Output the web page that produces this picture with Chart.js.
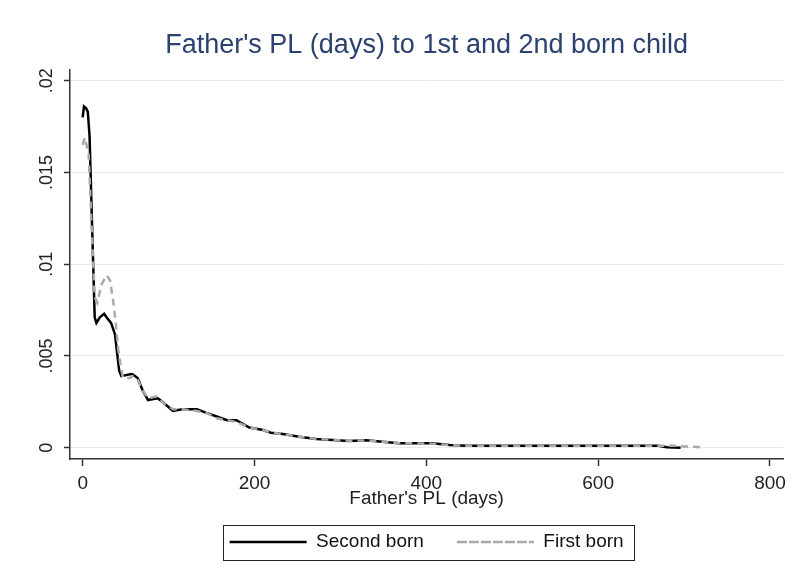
<!DOCTYPE html>
<html>
<head>
<meta charset="utf-8">
<script src="https://cdn.jsdelivr.net/npm/chart.js@4/dist/chart.umd.min.js"></script>
<style>
  body { margin: 0; background: #fff; }
  canvas { display: block; }
</style>
</head>
<body>
<canvas id="plChart" width="792" height="580"></canvas>
<script>
// density of father's parental leave (days)
const secondX = [0, 1.5, 4, 6, 8, 11, 14, 16, 20, 25, 28, 33, 37.5, 40, 42.5, 45, 55, 58, 64, 70, 76, 87, 93, 105, 116, 133, 144, 156, 168, 179, 194, 210, 219, 233, 252, 272, 291, 310, 330, 349, 368, 407, 427, 446, 500, 600, 670, 680, 696];
const secondY = [0.0180, 0.0186, 0.0185, 0.0183, 0.0170, 0.0120, 0.0071, 0.0068, 0.0071, 0.0073, 0.0071, 0.0068, 0.0062, 0.0052, 0.0042, 0.0039, 0.0040, 0.0040, 0.0038, 0.0031, 0.0026, 0.0027, 0.0025, 0.0020, 0.0021, 0.0021, 0.0019, 0.0017, 0.0015, 0.0015, 0.0011, 0.00096, 0.00082, 0.00075, 0.0006, 0.00047, 0.00042, 0.00037, 0.0004, 0.00033, 0.00024, 0.00024, 0.00015, 0.00011, 0.0001, 0.0001, 0.0001, 0.00002, 0.0];

const firstX = [0, 2.5, 5, 7, 10, 14, 17, 22, 28, 32, 35.5, 38.5, 41, 44, 47, 55, 58, 64, 70, 76, 87, 93, 105, 116, 133, 144, 156, 168, 179, 194, 210, 219, 233, 252, 272, 291, 310, 330, 349, 368, 407, 427, 446, 500, 600, 690, 700, 719];
const firstY = [0.0165, 0.0169, 0.0164, 0.0160, 0.0125, 0.0082, 0.0079, 0.0089, 0.0094, 0.0091, 0.0080, 0.0068, 0.0055, 0.0045, 0.0038, 0.0038, 0.0039, 0.0037, 0.0031, 0.0027, 0.0028, 0.0025, 0.0021, 0.0021, 0.0020, 0.0019, 0.0016, 0.0015, 0.0014, 0.0011, 0.00095, 0.00085, 0.00073, 0.0006, 0.00048, 0.00043, 0.00038, 0.0004, 0.00032, 0.00025, 0.00022, 0.00014, 0.0001, 0.0001, 0.0001, 0.0001, 0.00007, 0.00003];

const xTicks = [0, 200, 400, 600, 800];
const xTickLabels = ['0', '200', '400', '600', '800'];
const yTicks = [0, 0.005, 0.01, 0.015, 0.02];
const yTickLabels = ['0', '.005', '.01', '.015', '.02'];

const FONT = "'Liberation Sans', Arial, sans-serif";
const AXIS = '#333333';

function points(xs, ys) {
    return xs.map((x, i) => ({ x: x, y: ys[i] }));
}

// y labels are drawn turned, like the original
const rotatedYLabels = {
    id: 'rotatedYLabels',
    afterDraw(chart) {
        const y = chart.scales.y;
        const ctx = chart.ctx;
        ctx.save();
        ctx.fillStyle = '#222';
        ctx.font = '18px ' + FONT;
        ctx.textAlign = 'center';
        ctx.textBaseline = 'middle';
        yTicks.forEach((v, i) => {
            ctx.save();
            ctx.translate(47, y.getPixelForValue(v));
            ctx.rotate(-Math.PI / 2);
            ctx.fillText(yTickLabels[i], 0, 0);
            ctx.restore();
        });
        ctx.restore();
    }
};

// frame round the legend
const legendFrame = {
    id: 'legendFrame',
    afterDraw(chart) {
        const lg = chart.legend;
        if (!lg || !lg.legendHitBoxes.length) return;
        const boxes = lg.legendHitBoxes;
        const left = boxes[0].left - 7;
        const last = boxes[boxes.length - 1];
        const right = last.left + last.width + 10;
        const top = boxes[0].top - 8;
        const bottom = boxes[0].top + boxes[0].height + 8;
        const ctx = chart.ctx;
        ctx.save();
        ctx.strokeStyle = '#222';
        ctx.lineWidth = 1;
        ctx.strokeRect(Math.round(left) + 0.5, Math.round(top) + 0.5, Math.round(right - left), Math.round(bottom - top));
        ctx.restore();
    }
};

const whiteBg = {
    id: 'whiteBg',
    beforeDraw(chart) {
        const ctx = chart.ctx;
        ctx.save();
        ctx.fillStyle = '#fff';
        ctx.fillRect(0, 0, chart.width, chart.height);
        ctx.restore();
    }
};

new Chart(document.getElementById('plChart'), {
    type: 'line',
    data: {
        datasets: [{
            label: 'First born',
            data: points(firstX, firstY),
            borderColor: '#a9a9a9',
            borderWidth: 2.5,
            borderDash: [7, 5],
            pointRadius: 0,
            tension: 0,
            fill: false
        }, {
            label: 'Second born',
            data: points(secondX, secondY),
            borderColor: '#000000',
            borderWidth: 2.5,
            pointRadius: 0,
            tension: 0,
            fill: false
        }]
    },
    options: {
        responsive: false,
        animation: false,
        layout: { padding: { left: 0, right: 7, top: 0, bottom: 18.5 } },
        plugins: {
            title: {
                display: true,
                fullSize: false,
                text: "Father's PL (days) to 1st and 2nd born child",
                color: '#2b4170',
                font: { family: FONT, size: 27, weight: 'normal' },
                padding: { top: 29, bottom: 8.6 }
            },
            legend: {
                position: 'bottom',
                fullSize: false,
                labels: {
                    sort: (a, b) => b.datasetIndex - a.datasetIndex,
                    color: '#111',
                    font: { family: FONT, size: 19 },
                    boxWidth: 77,
                    boxHeight: 0,
                    padding: 33
                }
            },
            tooltip: { enabled: false }
        },
        scales: {
            x: {
                type: 'linear',
                min: -14.75,
                max: 815.4,
                afterBuildTicks: s => { s.ticks = xTicks.map(v => ({ value: v })); },
                afterFit: s => { s.height = 40.5; },
                ticks: {
                    color: '#222',
                    font: { family: FONT, size: 19 },
                    padding: 6,
                    maxRotation: 0,
                    callback: (v) => xTickLabels[xTicks.indexOf(v)]
                },
                grid: {
                    drawOnChartArea: false,
                    drawTicks: true,
                    tickLength: 7,
                    tickColor: AXIS,
                    tickWidth: 1.5
                },
                border: { color: AXIS, width: 1.5 },
                title: {
                    display: true,
                    text: "Father's PL (days)",
                    color: '#222',
                    font: { family: FONT, size: 19 },
                    padding: { top: 0, bottom: -11 }
                }
            },
            y: {
                min: -0.000616,
                max: 0.020583,
                afterBuildTicks: s => { s.ticks = yTicks.map(v => ({ value: v })); },
                afterFit: s => { s.width = 70; },
                ticks: { display: false },
                grid: {
                    color: '#e6ebf2',
                    lineWidth: 1,
                    drawTicks: true,
                    tickLength: 6,
                    tickColor: AXIS,
                    tickWidth: 1.5
                },
                border: { color: AXIS, width: 1.5 }
            }
        }
    },
    plugins: [whiteBg, rotatedYLabels, legendFrame]
});
</script>
</body>
</html>
